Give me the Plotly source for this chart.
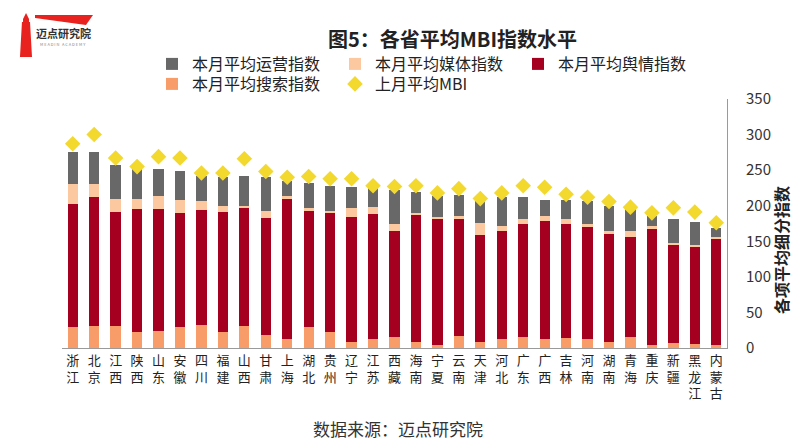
import plotly.graph_objects as go

# data
provinces = ['浙江', '北京', '江西', '陕西', '山东', '安徽', '四川', '福建', '山西', '甘肃',
             '上海', '湖北', '贵州', '辽宁', '江苏', '西藏', '海南', '宁夏', '云南', '天津',
             '河北', '广东', '广西', '吉林', '河南', '湖南', '青海', '重庆', '新疆', '黑龙江', '内蒙古']
search_idx = [30, 31, 31, 22, 24, 29, 32, 22, 31, 18, 12, 30, 22, 8, 13, 15, 9, 4, 17, 8,
              13, 15, 12, 14, 12, 8, 16, 4, 7, 5, 4]
opinion_idx = [172, 181, 160, 174, 172, 161, 162, 169, 166, 165, 198, 162, 168, 176, 175, 150,
               179, 177, 165, 151, 152, 159, 167, 160, 158, 152, 140, 163, 138, 138, 150]
media_idx = [28, 19, 18, 13, 18, 18, 13, 9, 3, 10, 4, 5, 3, 13, 10, 9, 2, 3, 4, 17,
             7, 7, 6, 8, 4, 4, 8, 4, 3, 2, 2]
ops_idx = [46, 45, 48, 42, 38, 41, 35, 41, 42, 48, 21, 35, 35, 29, 27, 48, 29, 30, 29, 30,
           40, 31, 23, 26, 32, 36, 31, 15, 33, 32, 13]
last_mbi = [287, 300, 267, 255, 269, 267, 246, 246, 266, 248, 240, 241, 238, 238, 228, 227,
            228, 218, 224, 210, 218, 228, 226, 216, 212, 206, 198, 190, 197, 191, 176]
y_ticks = [0, 50, 100, 150, 200, 250, 300, 350]

FONT = 'Noto Sans CJK SC'
OFF = 8  # page body margin
W, H = 800 - OFF, 440 - OFF
L, R, T, B = 62 - OFF, 73, 99 - OFF, 92


def px(x, y):
    # screen pixel position -> paper coords
    x, y = x - OFF, y - OFF
    return (x - L) / (W - L - R), (H - B - y) / (H - T - B)


tick_text = ['<br>'.join(p) for p in provinces]

fig = go.Figure()
fig.add_trace(go.Bar(x=provinces, y=search_idx, name='本月平均搜索指数', legend='legend2',
                     marker=dict(color='#F89C6A', line=dict(width=0)), legendrank=1))
fig.add_trace(go.Bar(x=provinces, y=opinion_idx, name='本月平均舆情指数',
                     marker=dict(color='#A5001F', line=dict(width=0)), legendrank=3))
fig.add_trace(go.Bar(x=provinces, y=media_idx, name='本月平均媒体指数',
                     marker=dict(color='#FCC8A0', line=dict(width=0)), legendrank=2))
fig.add_trace(go.Bar(x=provinces, y=ops_idx, name='本月平均运营指数',
                     marker=dict(color='#686868', line=dict(width=0)), legendrank=1))
fig.add_trace(go.Scatter(x=provinces, y=last_mbi, name='上月平均MBI', mode='markers',
                         legend='legend2',
                         marker=dict(symbol='diamond', size=12, color='#F3D92E'),
                         legendrank=2))


def note(x, y, text, size, color='#222', **kw):
    ax, ay = px(x, y)
    d = dict(x=ax, y=ay, xref='paper', yref='paper', showarrow=False, text=text,
             xanchor='center', yanchor='middle',
             font=dict(family=FONT, size=size, color=color))
    d.update(kw)
    return d


ann = [
    note(452, 38, '<b>图5：各省平均MBI指数水平</b>', 20),
    note(398, 428, '数据来源：迈点研究院', 17, '#333'),
    note(781, 250, '<b>各项平均细分指数</b>', 16, textangle=-90),
    # logo text
    note(63, 33, '<b>迈点研究院</b>', 11, '#333'),
    note(63, 44, 'M E A D I N   A C A D E M Y', 4, '#888'),
]


def path(points):
    pts = [px(x, y) for x, y in points]
    return 'M ' + ' L '.join(f'{a:.4f},{b:.4f}' for a, b in pts) + ' Z'


shapes = [
    dict(type='path', xref='paper', yref='paper', line=dict(width=0), fillcolor='#E8231F',
         path=path([(26, 13), (29, 19), (29, 22), (30, 22), (32, 57), (20, 57), (22, 22),
                    (23, 22), (23, 19)])),
    dict(type='path', xref='paper', yref='paper', line=dict(width=0), fillcolor='#E8231F',
         path=path([(35, 15), (93, 15), (86, 25), (35, 18)])),
]

l1x, l1y = px(152, 64)
l2x, l2y = px(152, 84)
leg_common = dict(orientation='h', xanchor='left', yanchor='middle',
                  traceorder='normal', entrywidth=138, entrywidthmode='pixels',
                  font=dict(family=FONT, size=16, color='#222'),
                  bgcolor='rgba(0,0,0,0)', itemsizing='constant', tracegroupgap=0)

fig.update_layout(
    width=W, height=H,
    margin=dict(l=L, r=R, t=T, b=B, autoexpand=False),
    paper_bgcolor='white', plot_bgcolor='white',
    barmode='stack', bargap=0.52,
    font=dict(family=FONT, color='#222'),
    showlegend=True,
    legend=dict(x=l1x, y=l1y, **leg_common),
    legend2=dict(x=l2x, y=l2y, **leg_common),
    xaxis=dict(tickmode='array', tickvals=provinces, ticktext=tick_text,
               range=[-0.5, len(provinces) - 0.5],
               tickfont=dict(family=FONT, size=13, color='#222'),
               showline=True, linecolor='#9a9a9a', linewidth=1, automargin=False,
               showgrid=False, ticks='', tickangle=0),
    yaxis=dict(side='right', range=[0, 350], tickvals=y_ticks,
               tickfont=dict(family=FONT, size=15, color='#333'),
               showline=True, linecolor='#9a9a9a', linewidth=1, automargin=False,
               showgrid=False, zeroline=False, ticks='', ticklabelstandoff=15),
    annotations=ann,
    shapes=shapes,
)

fig.write_html('out.html')
